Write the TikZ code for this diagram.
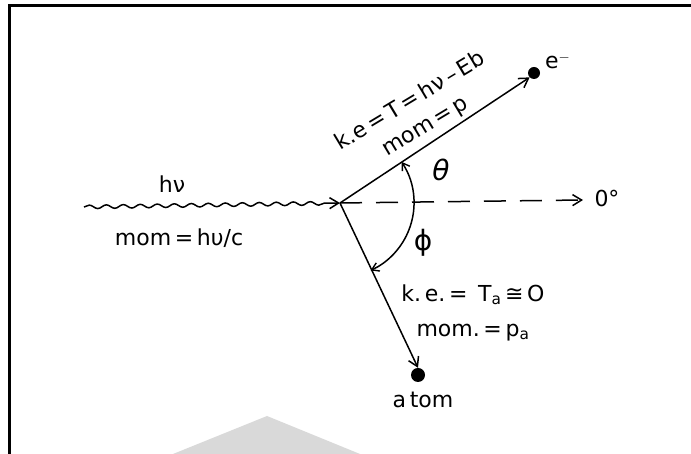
\documentclass[tikz,border=0pt]{standalone}
\usepackage{fontspec}
\setmainfont{DejaVu Sans}
\usetikzlibrary{arrows.meta,decorations.pathmorphing}
\begin{document}
\begin{tikzpicture}[x=1pt,y=1pt,
  lbl/.style={inner sep=0pt, font=\fontsize{22}{24}\selectfont},
  ln/.style={line width=1.5pt},
  tip/.style={-{Straight Barb[length=9pt,width=11pt,line width=1.5pt]}},
  dot/.style={circle, fill=black, inner sep=0pt, minimum size=#1}]
\useasboundingbox (0,0) rectangle (691,454);
% watermark
\fill[gray!30] (173,0) -- (267,38) -- (360,0) -- cycle;
% frame
\draw[line width=3pt] (9,0) -- (9,448) -- (691,448);
% points
\coordinate (O) at (340,251);
\coordinate (w) at (84,247);
\coordinate (zero) at (583,254);
\node[dot=12pt] (e) at (534,381) {};
\node[dot=14pt] (atom) at (418,79) {};
% photon
\draw[ln, tip, decorate, decoration={snake, amplitude=1.8pt, segment length=17pt, post length=10pt}] (w) -- (O);
% dashed reference
\draw[ln, tip, dash pattern=on 22pt off 14pt] (O) -- (zero);
% electron and atom tracks
\draw[ln, tip] (O) -- (e.south west);
\draw[ln, tip] (O) -- (atom.north);
% angle arc
\draw[ln, {Straight Barb[length=7pt,width=9pt,line width=1.4pt]}-{Straight Barb[length=7pt,width=9pt,line width=1.4pt]}]
  (O) ++(33.8:74) arc[start angle=33.8, end angle=-65.6, radius=74];
% labels
\node[lbl] (ze) at (607,256) {0°};
\node[lbl] (th) at (441,284) {\fontsize{28}{30}\selectfont\textit{θ}};
\node[lbl] (ph) at (423,211) {\fontsize{28}{30}\selectfont ϕ};
\node[lbl] (hn) at (172,270) {hν};
\node[lbl] (mp) at (179,216) {mom\,=\,hυ/c};
\node[lbl, rotate=31, align=center, font=\fontsize{22}{29}\selectfont] (ke) at (418,340)
  {k.e\,=\,T\,=\,hν\,–\,Eb\\mom\,=\,p};
\node[lbl, anchor=base west] (ea) at (545,385) {e$^{-}$};
\node[lbl, align=center, font=\fontsize{22}{35}\selectfont] (ka) at (473,141)
  {k.\,e.\,=\, T\textsubscript{a}\,≅\,O\\mom.\,=\,p\textsubscript{a}};
\node[lbl] (at) at (423,54) {a\,tom};
\end{tikzpicture}
\end{document}
